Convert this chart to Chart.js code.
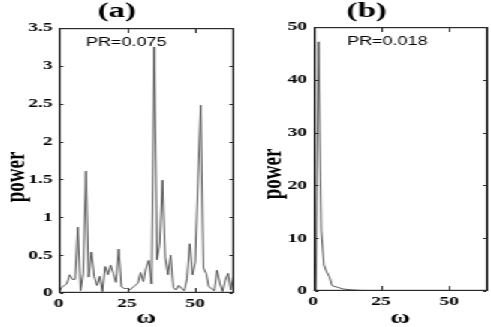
<!DOCTYPE html>
<html lang="en">

<head>
    <meta charset="UTF-8">
    <title>Power spectra</title>
    <script src="https://cdn.jsdelivr.net/npm/chart.js"></script>
    <style>
        html,
        body {
            margin: 0;
            padding: 0;
            background: #fff;
            overflow: hidden;
        }

        /* the source figure is stretched sideways, so draw narrow and scale it */
        #figure {
            position: absolute;
            left: 0;
            top: 0;
            width: 327px;
            height: 327px;
            transform: scaleX(1.5015);
            transform-origin: 0 0;
        }

        #figure canvas {
            position: absolute;
            top: 0;
        }

        #chart-a {
            left: 0;
        }

        #chart-b {
            left: 164px;
        }

        .box {
            position: absolute;
            box-sizing: border-box;
            border: 1px solid #2a2a2a;
            pointer-events: none;
        }
    </style>
</head>

<body>
    <div id="figure">
        <canvas id="chart-a" width="164" height="327"></canvas>
        <canvas id="chart-b" width="163" height="327"></canvas>
    </div>

    <script>
        // power at omega = 0, 1, 2, ... 64
        const powerA = [
            0.0, 0.07, 0.10, 0.12, 0.24, 0.18, 0.18, 0.87, 0.03, 0.26,
            1.61, 0.21, 0.54, 0.22, 0.10, 0.22, 0.02, 0.35, 0.24, 0.37,
            0.26, 0.14, 0.58, 0.08, 0.06, 0.06, 0.04, 0.07, 0.10, 0.13,
            0.27, 0.15, 0.33, 0.43, 0.12, 3.25, 0.44, 0.66, 1.49, 0.47,
            0.24, 0.50, 0.07, 0.04, 0.10, 0.06, 0.03, 0.19, 0.65, 0.24,
            0.41, 1.45, 2.48, 0.33, 0.26, 0.08, 0.06, 0.03, 0.30, 0.13,
            0.02, 0.17, 0.26, 0.04, 0.22
        ];
        const powerB = [
            0.0, 0.0, 47.2, 11.5, 4.9, 3.6, 2.7, 1.0, 0.85, 0.7,
            0.55, 0.4, 0.32, 0.27, 0.22, 0.18, 0.15, 0.12, 0.1, 0.08,
            0.07, 0.06, 0.05, 0.04, 0.035, 0.03, 0.025, 0.02, 0.02, 0.015,
            0.015, 0.01, 0.01, 0.01, 0.01, 0.01, 0.01, 0.01, 0.01, 0.01,
            0.01, 0.01, 0.01, 0.01, 0.01, 0.01, 0.01, 0.01, 0.01, 0.01,
            0.01, 0.01, 0.01, 0.01, 0.01, 0.01, 0.01, 0.01, 0.01, 0.01,
            0.01, 0.01, 0.01, 0.01, 0.01
        ];

        const xTicks = [0, 25, 50];
        const yTicksA = [0, 0.5, 1, 1.5, 2, 2.5, 3, 3.5];
        const yTicksB = [0, 10, 20, 30, 40, 50];

        const titleA = '(a)';
        const titleB = '(b)';
        const noteA = 'PR=0.075';
        const noteB = 'PR=0.018';
        const xLabel = 'ω';
        const yLabel = 'power';

        const serif = "'Liberation Serif', 'Times New Roman', serif";
        const sans = "'Liberation Sans', Arial, sans-serif";

        // box round the plot and ticks pointing inwards
        const framePlugin = {
            id: 'frame',
            afterDraw(chart) {
                const ctx = chart.ctx;
                const a = chart.chartArea;
                const l = Math.round(a.left);
                const r = Math.round(a.right) - 1;
                const t = Math.round(a.top);
                const b = Math.round(a.bottom) - 1;
                ctx.save();
                ctx.fillStyle = '#2a2a2a';
                ctx.fillRect(l, t, 1.2, b - t + 1);
                ctx.fillRect(r - 0.2, t, 1.2, b - t + 1);
                ctx.fillRect(l, t, r - l + 1, 1.2);
                ctx.fillRect(l, b - 0.2, r - l + 1, 1.2);
                const x = chart.scales.x;
                const y = chart.scales.y;
                x.ticks.forEach(tk => {
                    const px = Math.round(x.getPixelForValue(tk.value));
                    ctx.fillRect(px, b - 4, 1, 4);
                    ctx.fillRect(px, t + 1, 1, 4);
                });
                y.ticks.forEach(tk => {
                    const py = Math.round(y.getPixelForValue(tk.value));
                    ctx.fillRect(l + 1, py, 2.2, 1);
                    ctx.fillRect(r - 2.2, py, 2.2, 1);
                });
                ctx.restore();
            }
        };

        // PR note inside the plot and the rotated y title
        const notesPlugin = {
            id: 'notes',
            afterDraw(chart, args, opts) {
                const ctx = chart.ctx;
                const x = chart.scales.x;
                const y = chart.scales.y;
                ctx.save();
                ctx.fillStyle = '#000';
                ctx.font = '12px ' + sans;
                ctx.textAlign = 'left';
                ctx.textBaseline = 'middle';
                ctx.fillText(opts.note, x.getPixelForValue(opts.noteAt[0]), y.getPixelForValue(opts.noteAt[1]));

                ctx.translate(opts.titleX, opts.titleY);
                ctx.rotate(-Math.PI / 2);
                ctx.font = 'bold 19px ' + serif;
                ctx.textAlign = 'center';
                ctx.fillText(yLabel, 0, 0);
                ctx.restore();
            }
        };

        function makeChart(id, cfg) {
            return new Chart(document.getElementById(id), {
                type: 'line',
                data: {
                    datasets: [{
                        data: cfg.power.map((p, i) => ({ x: i, y: p })),
                        borderColor: '#444',
                        borderWidth: 0.9,
                        pointRadius: 0,
                        tension: 0
                    }]
                },
                options: {
                    responsive: false,
                    animation: false,
                    layout: { padding: { left: 0, right: cfg.padRight, top: 0, bottom: 0 } },
                    plugins: {
                        legend: { display: false },
                        tooltip: { enabled: false },
                        title: {
                            display: true,
                            text: cfg.title,
                            color: '#000',
                            font: { family: serif, size: 22, weight: 'bold', lineHeight: 1 },
                            padding: { top: 0, bottom: cfg.titleGap }
                        },
                        notes: cfg.notes
                    },
                    scales: {
                        x: {
                            type: 'linear',
                            min: 0,
                            max: 64,
                            grid: { display: false, drawTicks: false },
                            border: { display: false },
                            afterBuildTicks: s => { s.ticks = xTicks.map(v => ({ value: v })); },
                            afterFit: s => { s.height = cfg.xHeight; },
                            ticks: {
                                color: '#000',
                                padding: 3,
                                maxRotation: 0,
                                font: { family: serif, size: 13, weight: 'bold' },
                                callback: v => String(v)
                            },
                            title: {
                                display: true,
                                text: xLabel,
                                color: '#000',
                                padding: 0,
                                font: { family: serif, size: 18, weight: 'bold', lineHeight: 1 }
                            }
                        },
                        y: {
                            min: 0,
                            max: cfg.yTicks[cfg.yTicks.length - 1],
                            grid: { display: false, drawTicks: false },
                            border: { display: false },
                            afterBuildTicks: s => { s.ticks = cfg.yTicks.map(v => ({ value: v })); },
                            afterFit: s => { s.width = cfg.yWidth; },
                            ticks: {
                                color: '#000',
                                padding: 4,
                                font: { family: serif, size: 13, weight: 'bold' },
                                callback: v => String(v)
                            }
                        }
                    }
                },
                plugins: [framePlugin, notesPlugin]
            });
        }

        // outline the plot area that Chart.js laid out, as a page element too
        function outline(chart) {
            const a = chart.chartArea;
            const box = document.createElement('div');
            box.className = 'box';
            box.style.left = (chart.canvas.offsetLeft + Math.round(a.left)) + 'px';
            box.style.top = Math.round(a.top) + 'px';
            box.style.width = (Math.round(a.right) - Math.round(a.left)) + 'px';
            box.style.height = (Math.round(a.bottom) - Math.round(a.top)) + 'px';
            document.getElementById('figure').appendChild(box);
        }

        const chartA = makeChart('chart-a', {
            power: powerA,
            yTicks: yTicksA,
            title: titleA,
            titleGap: 6,
            padRight: 8.5,
            xHeight: 34,
            yWidth: 39,
            notes: { note: noteA, noteAt: [10, 3.3], titleX: 11, titleY: 177 }
        });

        const chartB = makeChart('chart-b', {
            power: powerB,
            yTicks: yTicksB,
            title: titleB,
            titleGap: 5,
            padRight: 2.5,
            xHeight: 36,
            yWidth: 44.5,
            notes: { note: noteB, noteAt: [12.5, 47.2], titleX: 18, titleY: 174 }
        });

        outline(chartA);
        outline(chartB);
    </script>
</body>

</html>
